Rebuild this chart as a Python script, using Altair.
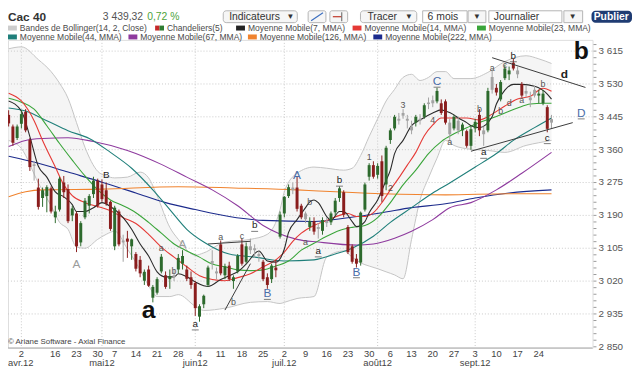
import altair as alt
import pandas as pd

FONT = "Liberation Sans"
W, H = 592, 312

# ---------------- categories: Euronext sessions (closed 6 Apr, 9 Apr, 1 May 2012)
closed_days = ["2012-04-06", "2012-04-09", "2012-05-01"]
sessions = [d for d in pd.bdate_range("2012-03-28", "2012-09-27")
            if d.strftime("%Y-%m-%d") not in closed_days]
day_idx = list(range(-3, len(sessions) - 3))   # 0 = 2 avril 2012

# ---------------- OHLC, month by month
opens = ([3450, 3420, 3390] +
         [3427, 3458, 3385, 3322, 3262, 3235, 3240, 3260, 3185, 3205, 3275, 3258, 3190, 3195, 3120, 3185, 3215, 3245, 3280] +
         [3270, 3255, 3225, 3110, 3200, 3125, 3130, 3110, 3090, 3075, 3021, 3050, 2977, 2990, 3045, 3035, 3025, 3030, 3050, 3065, 3050, 3030] +
         [3015, 2928, 2960, 3010, 3065, 3045, 3115, 3035, 3060, 3020, 3045, 3115, 3070, 3110, 3105, 3085, 3070, 3030, 3025, 3055, 3135] +
         [3195, 3240, 3262, 3262, 3215, 3195, 3160, 3175, 3160, 3150, 3170, 3172, 3198, 3235, 3250, 3160, 3110, 3078, 3068, 3205, 3290, 3320] +
         [3295, 3330, 3270, 3385, 3415, 3440, 3448, 3440, 3420, 3430, 3440, 3445, 3478, 3488, 3485, 3480, 3485, 3430, 3415, 3435, 3410, 3408, 3370] +
         [3415, 3450, 3400, 3410, 3515, 3520, 3490, 3545, 3555, 3585, 3565, 3530, 3505, 3495, 3500, 3500, 3480, 3470, 3430])
highs = ([3462, 3425, 3425] +
         [3462, 3465, 3390, 3330, 3285, 3262, 3268, 3265, 3215, 3290, 3292, 3270, 3215, 3200, 3175, 3235, 3245, 3290, 3285] +
         [3283, 3275, 3228, 3215, 3205, 3140, 3150, 3130, 3095, 3085, 3050, 3060, 3010, 3030, 3090, 3045, 3050, 3050, 3090, 3100, 3060, 3045] +
         [3020, 2960, 2985, 3060, 3100, 3055, 3125, 3065, 3070, 3035, 3090, 3130, 3120, 3130, 3115, 3095, 3075, 3040, 3065, 3075, 3200] +
         [3240, 3270, 3275, 3290, 3220, 3200, 3185, 3185, 3170, 3185, 3185, 3200, 3235, 3265, 3255, 3165, 3115, 3090, 3200, 3275, 3325, 3330] +
         [3325, 3345, 3370, 3415, 3450, 3455, 3465, 3450, 3435, 3450, 3452, 3480, 3495, 3500, 3520, 3490, 3490, 3440, 3450, 3445, 3430, 3412, 3420] +
         [3440, 3465, 3420, 3520, 3565, 3530, 3540, 3580, 3575, 3595, 3575, 3535, 3525, 3510, 3525, 3515, 3515, 3475, 3450])
lows = ([3420, 3370, 3385] +
        [3415, 3405, 3305, 3280, 3205, 3212, 3198, 3195, 3170, 3200, 3235, 3170, 3175, 3095, 3110, 3180, 3195, 3235, 3210] +
        [3225, 3215, 3150, 3100, 3110, 3070, 3080, 3075, 3045, 3030, 3010, 3005, 2965, 2985, 3040, 3000, 3000, 3020, 3040, 3050, 3020, 3000] +
        [2930, 2915, 2950, 3005, 3050, 3025, 3035, 3025, 3020, 3000, 3040, 3060, 3065, 3090, 3080, 3070, 3020, 3000, 3015, 3030, 3130] +
        [3185, 3235, 3245, 3200, 3180, 3170, 3150, 3140, 3130, 3140, 3160, 3165, 3190, 3225, 3185, 3090, 3065, 3055, 3060, 3200, 3280, 3285] +
        [3285, 3225, 3255, 3375, 3410, 3425, 3440, 3415, 3400, 3420, 3425, 3440, 3465, 3470, 3480, 3450, 3425, 3385, 3410, 3400, 3395, 3365, 3360] +
        [3405, 3395, 3370, 3405, 3505, 3500, 3485, 3540, 3540, 3565, 3545, 3495, 3495, 3470, 3495, 3480, 3475, 3405, 3415])
closes = ([3428, 3378, 3420] +
          [3452, 3410, 3315, 3318, 3212, 3255, 3263, 3200, 3200, 3285, 3250, 3175, 3208, 3110, 3170, 3228, 3240, 3280, 3215] +
          [3232, 3220, 3155, 3210, 3115, 3120, 3122, 3128, 3052, 3040, 3044, 3008, 3005, 3025, 3083, 3005, 3033, 3035, 3080, 3085, 3026, 3010] +
          [2950, 2955, 2982, 3055, 3072, 3040, 3040, 3058, 3025, 3030, 3085, 3065, 3110, 3100, 3100, 3090, 3025, 3010, 3060, 3048, 3192] +
          [3238, 3263, 3255, 3207, 3185, 3180, 3175, 3148, 3155, 3178, 3176, 3195, 3228, 3260, 3192, 3095, 3070, 3065, 3197, 3270, 3320, 3290] +
          [3318, 3240, 3365, 3410, 3445, 3435, 3455, 3435, 3410, 3445, 3435, 3475, 3482, 3480, 3512, 3455, 3430, 3400, 3445, 3410, 3425, 3370, 3413] +
          [3432, 3410, 3410, 3512, 3548, 3508, 3535, 3570, 3565, 3570, 3555, 3500, 3512, 3488, 3515, 3505, 3505, 3414, 3439])
kinds = list("rrg" +
             "grrnrggrggrrgrggggr" +
             "rrrgrnrgrrgrgggrgnggrr" +
             "rgggnnrgrggrgnnnrrgrg" +
             "ggnrrngrngngggrrrrgggr" +
             "grgggnnnngngnngrrngngrg" +
             "grngnrgggrnrnnnggrn")

# ---------------- Bollinger(14, 2) bands
band_idx = [-3, 0, 4, 7, 9, 11, 13, 15, 18, 20, 22, 25, 28, 30, 32, 35, 37, 41, 43, 48,
            54, 58, 61, 62, 65, 69, 72, 76, 78, 80, 82, 84, 86, 88, 90, 92, 94, 96, 98, 100,
            102, 106, 110, 114, 119, 122, 125]
band_up = [3621, 3626, 3593, 3562, 3532, 3493, 3430, 3366, 3304, 3292, 3287, 3289, 3302, 3287, 3241, 3159, 3128, 3087, 3093, 3121,
           3128, 3141, 3205, 3251, 3299, 3315, 3312, 3307, 3312, 3345, 3394, 3440, 3486, 3516, 3547, 3555, 3539, 3547, 3562, 3562,
           3544, 3544, 3560, 3588, 3603, 3595, 3583]
band_lo = [3384, 3363, 3274, 3215, 3172, 3154, 3108, 3105, 3128, 3141, 3149, 3103, 3049, 3008, 2980, 2980, 2985, 2955, 2944, 2950,
           2965, 2967, 2962, 2965, 2975, 2980, 3082, 3098, 3082, 3067, 3059, 3052, 3044, 3036, 3026, 3128, 3230, 3287, 3338, 3384,
           3371, 3361, 3358, 3353, 3371, 3378, 3384]

# ---------------- moving averages (MMA)
ma7_idx = [-3, 0, 2, 4, 6, 8, 10, 12, 13, 15, 17, 19, 21, 24, 26, 28, 30, 32, 34, 36, 37, 39, 41, 43, 44, 47, 49, 51, 53, 56,
           58, 60, 62, 63, 65, 67, 68, 69, 70, 72, 73, 75, 76, 78, 79, 81, 82, 84, 86, 87, 88, 90, 92, 94, 97, 99, 100, 102, 103, 105,
           106, 108, 111, 112, 114, 116, 118, 121, 124, 125]
ma7_val = [3486, 3460, 3394, 3317, 3289, 3251, 3238, 3218, 3200, 3200, 3210, 3223, 3213, 3184, 3154, 3116, 3085, 3044, 3031, 3031,
           3039, 3031, 3018, 3008, 3006, 3024, 3034, 3044, 3064, 3098, 3072, 3069, 3103, 3146, 3179, 3210, 3225, 3230, 3223, 3187,
           3177, 3200, 3200, 3174, 3161, 3174, 3197, 3230, 3281, 3307, 3350, 3384, 3422, 3437, 3455, 3463, 3460, 3450, 3442, 3430,
           3422, 3417, 3445, 3478, 3514, 3529, 3529, 3524, 3504, 3491]
ma14_idx = [-3, 0, 3, 5, 8, 10, 12, 15, 18, 21, 24, 27, 30, 33, 36, 39, 42, 45, 48, 51, 54, 57, 60, 62, 64, 66, 69, 72, 75, 77,
            79, 81, 83, 85, 87, 89, 91, 93, 95, 97, 99, 102, 105, 108, 111, 114, 117, 120, 122, 123, 125]
ma14_val = [3506, 3486, 3435, 3384, 3315, 3269, 3241, 3223, 3213, 3202, 3184, 3169, 3141, 3108, 3082, 3057, 3034, 3024, 3021, 3029,
            3039, 3057, 3075, 3095, 3123, 3144, 3164, 3177, 3190, 3195, 3187, 3187, 3197, 3223, 3256, 3287, 3320, 3353, 3396, 3424,
            3442, 3442, 3442, 3437, 3452, 3473, 3491, 3498, 3514, 3519, 3511]
ma23_idx = [-3, 0, 3, 6, 9, 12, 15, 18, 21, 24, 27, 30, 33, 36, 39, 42, 45, 48, 51, 54, 57, 60, 63, 66, 69, 72, 75, 78, 81, 84,
            87, 90, 93, 96, 99, 102, 105, 108, 111, 114, 117, 120, 123, 125]
ma23_val = [3493, 3483, 3465, 3422, 3376, 3333, 3292, 3256, 3230, 3215, 3197, 3172, 3144, 3116, 3098, 3082, 3064, 3057, 3049, 3047,
            3049, 3059, 3072, 3100, 3118, 3136, 3151, 3159, 3164, 3184, 3223, 3269, 3307, 3350, 3381, 3401, 3417, 3430, 3442, 3455,
            3468, 3478, 3480, 3480]
ma44_idx = [-3, 1, 6, 11, 16, 21, 26, 31, 35, 39, 43, 49, 55, 62, 69, 74, 78, 83, 87, 92, 97, 101, 107, 112, 116, 121, 125]
ma44_val = [3468, 3460, 3435, 3409, 3389, 3353, 3312, 3256, 3205, 3154, 3121, 3090, 3082, 3072, 3075, 3090, 3105, 3136, 3172, 3210,
            3248, 3274, 3315, 3350, 3384, 3417, 3442]
ma67_idx = [-3, 1, 5, 11, 17, 25, 33, 39, 45, 51, 57, 65, 70, 79, 83, 88, 92, 97, 101, 106, 112, 118, 125]
ma67_val = [3368, 3384, 3389, 3391, 3381, 3358, 3322, 3289, 3256, 3215, 3164, 3128, 3121, 3113, 3116, 3131, 3149, 3179, 3210, 3223,
            3256, 3299, 3353]
ma126_idx = [-3, 1, 5, 19, 37, 50, 65, 70, 85, 100, 115, 125]
ma126_val = [3238, 3251, 3256, 3258, 3264, 3261, 3256, 3253, 3246, 3243, 3246, 3246]
ma222_idx = [-3, 4, 11, 19, 27, 34, 41, 49, 57, 69, 77, 85, 92, 100, 107, 115, 125]
ma222_val = [3343, 3325, 3302, 3276, 3248, 3223, 3205, 3187, 3177, 3174, 3184, 3197, 3210, 3220, 3235, 3248, 3256]

# ---------------- drawn trend lines
tl_x1 = [44, 48, 111, 106]
tl_v1 = [3116, 2945, 3598, 3356]
tl_x2 = [54, 54, 133, 130]
tl_v2 = [3123, 3065, 3521, 3430]

# ---------------- annotations
ann_text = ["A", "B", "A", "a", "a", "b", "a", "a", "b", "c", "b", "B", "A", "a", "b", "a", "b", "B", "1", "2",
            "3", "4", "C", "a", "b", "a", "a", "c", "b", "b", "d", "a", "b", "c", "D", "d", "b"]
ann_idx = [13, 20, 38, 30, 33, 36, 41, 47, 50, 52, 55, 58, 65, 67, 68, 70, 75, 79, 82, 87,
           90, 97, 98, 101, 108, 109, 111, 114, 116, 113, 115, 118, 123, 124, 132, 128, 132]
ann_val = [3064, 3294, 3116, 2944, 3105, 3047, 2909, 3133, 2967, 3136, 3164, 2988, 3294, 3121, 3225, 3098, 3281, 3044, 3340, 3261,
           3475, 3437, 3537, 3381, 3465, 3353, 3572, 3578, 3603, 3460, 3481, 3488, 3529, 3391, 3455, 3555, 3616]
ann_style = ["lt", "dk", "lt", "big", "sm", "sm", "dk", "sm", "sm", "sm", "dk", "bl", "bl", "sm", "sm", "dk", "dk", "bl", "sm", "sm",
             "sm", "sm", "bl", "sm", "sm", "dk", "sm", "sm", "dk", "sm", "sm", "sm", "sm", "dk", "bl", "dd", "big"]
ann_under = [0, 0, 0, 0, 0, 0, 1, 0, 0, 0, 1, 1, 0, 0, 0, 1, 1, 1, 0, 0,
             0, 0, 1, 0, 0, 1, 0, 0, 1, 0, 0, 0, 0, 1, 1, 0, 0]

# ---------------- axes
y_major = [2850, 2935, 3020, 3105, 3190, 3275, 3360, 3445, 3530, 3615]
y_major_lab = ["2 850", "2 935", "3 020", "3 105", "3 190", "3 275", "3 360", "3 445", "3 530", "3 615"]
y_minor = [2850 + 17 * k for k in range(47)]
month_idx = [0, 19, 41, 62, 84, 107]
month_lab = ["avr.12", "mai12", "juin12", "juil.12", "août12", "sept.12"]
tick_idx = [0, 8, 13, 18, 22, 27, 32, 37, 42, 47, 52, 57, 62, 67, 72, 77, 82, 87, 92, 97, 102, 107, 112, 117, 122]
tick_lab = ["2", "16", "23", "30", "7", "14", "21", "28", "4", "11", "18", "25", "2", "9", "16", "23", "30",
            "6", "13", "20", "27", "3", "10", "17", "24"]

legend_items = [
    ("Bandes de Bollinger(14, 2, Close)", ["#cccccc"]),
    ("Chandeliers(5)", ["#c62828", "#2e7d32"]),
    ("Moyenne Mobile(7, MMA)", ["#222222"]),
    ("Moyenne Mobile(14, MMA)", ["#e53935"]),
    ("Moyenne Mobile(23, MMA)", ["#3aa53a"]),
    ("Moyenne Mobile(44, MMA)", ["#1f7f7a"]),
    ("Moyenne Mobile(67, MMA)", ["#8e3a9e"]),
    ("Moyenne Mobile(126, MMA)", ["#f0832e"]),
    ("Moyenne Mobile(222, MMA)", ["#1c2b8c"]),
]

# =====================================================================
xs = alt.Scale(domain=[-1.99, 133.5], nice=False, zero=False)
ys = alt.Scale(domain=[2847, 3644], nice=False, zero=False)
ONE = alt.Data(values=[{"k": 1}])


def X(f="idx"):
    return alt.X(f + ":Q", scale=xs, axis=None)


def Y(f="v"):
    return alt.Y(f + ":Q", scale=ys, axis=None)


candles = pd.DataFrame({"idx": day_idx, "date": [d.strftime("%d/%m/%Y") for d in sessions],
                        "open": opens, "high": highs, "low": lows, "close": closes, "kind": kinds})
band = pd.DataFrame({"idx": band_idx, "up": band_up, "lo": band_lo})

layers = []
layers.append(alt.Chart(band).mark_area(color="#f5f5f5", interpolate="monotone")
              .encode(x=X(), y=Y("lo"), y2="up:Q"))
layers.append(alt.Chart(pd.DataFrame({"v": y_major[1:]})).mark_rule(color="#c9c9c9", strokeDash=[1, 2])
              .encode(y=Y()))
layers.append(alt.Chart(pd.DataFrame({"idx": month_idx})).mark_rule(color="#c9c9c9", strokeDash=[1, 2])
              .encode(x=X()))
for f in ["up", "lo"]:
    layers.append(alt.Chart(band).mark_line(color="#c4c4c4", strokeWidth=1, interpolate="monotone")
                  .encode(x=X(), y=Y(f)))

ma_specs = [(ma222_idx, ma222_val, "#1c2b8c"), (ma126_idx, ma126_val, "#f0832e"),
            (ma67_idx, ma67_val, "#8e3a9e"), (ma44_idx, ma44_val, "#1f7f7a"),
            (ma23_idx, ma23_val, "#3aa53a"), (ma14_idx, ma14_val, "#e53935"),
            (ma7_idx, ma7_val, "#2a2a2a")]
for idx, val, col in ma_specs:
    layers.append(alt.Chart(pd.DataFrame({"idx": idx, "v": val}))
                  .mark_line(color=col, strokeWidth=1.1, interpolate="monotone")
                  .encode(x=X(), y=Y()))

kind_scale = alt.Scale(domain=["g", "r", "n"], range=["#2d6a2d", "#8a1d1d", "#a3a3a3"])
layers.append(alt.Chart(candles).mark_rule(strokeWidth=1).encode(
    x=X(), y=Y("low"), y2="high:Q",
    color=alt.Color("kind:N", scale=kind_scale, legend=None)))
layers.append(alt.Chart(candles).mark_bar(size=3).encode(
    x=X(), y=Y("open"), y2="close:Q",
    color=alt.Color("kind:N", scale=kind_scale, legend=None)))

tl = pd.DataFrame({"x1": tl_x1, "v1": tl_v1, "x2": tl_x2, "v2": tl_v2})
layers.append(alt.Chart(tl).mark_rule(color="#3a3a3a", strokeWidth=1)
              .encode(x=X("x1"), x2="x2:Q", y=Y("v1"), y2="v2:Q"))

ann = pd.DataFrame({"t": ann_text, "idx": ann_idx, "v": ann_val, "s": ann_style, "u": ann_under})
styles = {"lt": dict(fontSize=12, color="#9c9c9c"),
          "sm": dict(fontSize=9, color="#555555"),
          "dk": dict(fontSize=10, color="#222222"),
          "dd": dict(fontSize=12, color="#222222", fontWeight="bold"),
          "bl": dict(fontSize=12, color="#4a6ea9"),
          "big": dict(fontSize=25, color="#111111", fontWeight="bold")}
for s, kw in styles.items():
    layers.append(alt.Chart(ann).transform_filter(alt.datum.s == s)
                  .mark_text(baseline="middle", align="center", font=FONT, **kw)
                  .encode(x=X(), y=Y(), text="t:N"))
layers.append(alt.Chart(ann).transform_filter(alt.datum.u == 1)
              .mark_tick(orient="horizontal", size=7, thickness=1, color="#444444", yOffset=6)
              .encode(x=X(), y=Y()))

# bottom axis line, x labels
layers.append(alt.Chart(ONE).mark_rule(color="#aaaaaa").encode(
    x=alt.value(0), x2=alt.value(W), y=alt.value(H)))
layers.append(alt.Chart(pd.DataFrame({"idx": tick_idx, "t": tick_lab}))
              .mark_text(baseline="middle", align="center", fontSize=9.5, color="#444444", font=FONT)
              .encode(x=X(), y=alt.value(H + 6), text="t:N"))
layers.append(alt.Chart(pd.DataFrame({"idx": month_idx[1:], "t": month_lab[1:]}))
              .mark_text(baseline="middle", align="center", fontSize=9.5, color="#444444", font=FONT)
              .encode(x=X(), y=alt.value(H + 15.5), text="t:N"))
layers.append(alt.Chart(ONE).mark_text(text=month_lab[0], align="left", baseline="middle", fontSize=9.5,
                                       color="#444444", font=FONT)
              .encode(x=alt.value(0), y=alt.value(H + 15.5)))

# right axis: minor ticks + labels
layers.append(alt.Chart(pd.DataFrame({"v": y_minor})).mark_rule(color="#999999").encode(
    x=alt.value(W + 1), x2=alt.value(W + 4), y=Y()))
layers.append(alt.Chart(pd.DataFrame({"v": y_major, "t": y_major_lab}))
              .mark_text(align="left", baseline="middle", fontSize=10, color="#555555", font=FONT)
              .encode(x=alt.value(W + 6), y=Y(), text="t:N"))


def txt(s, x, y, size=10, color="#333333", weight="normal", align="left"):
    return alt.Chart(ONE).mark_text(text=s, align=align, baseline="middle", fontSize=size,
                                    fontWeight=weight, color=color, font=FONT).encode(
        x=alt.value(x), y=alt.value(y))


def box(x1, x2, y1, y2, fill, stroke=None, r=0):
    kw = dict(fill=fill, cornerRadius=r)
    if stroke:
        kw.update(stroke=stroke, strokeWidth=1)
    return alt.Chart(ONE).mark_rect(**kw).encode(
        x=alt.value(x1), x2=alt.value(x2), y=alt.value(y1), y2=alt.value(y2))


def seg(x1, y1, x2, y2, color, w=1.2):
    return alt.Chart(ONE).mark_rule(color=color, strokeWidth=w).encode(
        x=alt.value(x1), x2=alt.value(x2), y=alt.value(y1), y2=alt.value(y2))


layers.append(txt("© Ariane Software - Axial Finance", 0, 306, size=8, color="#444444"))

# header toolbar
HY, BT, BB = -23.5, -29.5, -17.5
layers += [
    txt("Cac 40", 0, HY, size=12, weight="bold", color="#333333"),
    txt("3 439,32", 96, HY, size=10.5, color="#555555"),
    txt("0,72 %", 141, HY, size=10.5, color="#4da33b"),
    box(218, 293, BT, BB, "#f6f6f6", "#b5b5b5", 3),
    txt("Indicateurs", 224, HY, size=10.5),
    txt("▼", 282, HY, size=8),
    box(304, 322, BT, BB, "#f6f6f6", "#b5b5b5", 2),
    seg(307, -19.5, 319, -27.5, "#3c6fc0"),
    box(326, 344, BT, BB, "#f6f6f6", "#b5b5b5", 2),
    seg(329, -23.5, 338, -23.5, "#c0392b"),
    seg(338, -28, 338, -19, "#777777"),
    box(357, 414, BT, BB, "#f6f6f6", "#b5b5b5", 3),
    txt("Tracer", 364, HY, size=10.5),
    txt("▼", 402, HY, size=8),
    box(420, 465, BT, BB, "#ffffff", "#b5b5b5", 0),
    txt("6 mois", 425, HY, size=10.5),
    box(466, 484, BT, BB, "#f6f6f6", "#b5b5b5", 0),
    txt("▼", 471, HY, size=8),
    box(487, 561, BT, BB, "#ffffff", "#b5b5b5", 0),
    txt("Journalier", 492, HY, size=10.5),
    box(563, 582, BT, BB, "#f6f6f6", "#b5b5b5", 0),
    txt("▼", 568, HY, size=8),
    box(591, 632, BT, BB, "#1f3c73", None, 4),
    txt("Publier", 611, HY, size=10.5, weight="bold", color="#ffffff", align="center"),
]

# legend rows
leg_pos = [(0, -12), (149, -12), (231, -12), (349, -12), (475, -12),
           (0, -3), (122, -3), (243, -3), (370, -3)]
for (label, cols), (lx, ly) in zip(legend_items, leg_pos):
    if len(cols) == 1:
        layers.append(box(lx, lx + 9, ly - 2.5, ly + 2.5, cols[0]))
    else:
        layers.append(box(lx, lx + 4.5, ly - 2.5, ly + 2.5, cols[0]))
        layers.append(box(lx + 4.5, lx + 9, ly - 2.5, ly + 2.5, cols[1]))
    layers.append(txt(label, lx + 12, ly, size=8.6, color="#4a4a4a"))

chart = (alt.layer(*layers)
         .properties(width=W, height=H,
                     padding={"left": 0, "top": 30, "right": 40, "bottom": 20},
                     autosize=alt.AutoSizeParams(type="none"))
         .configure_view(strokeWidth=0)
         .configure(font=FONT))

chart.save("out.html", embed_options={"renderer": "svg", "actions": False})
